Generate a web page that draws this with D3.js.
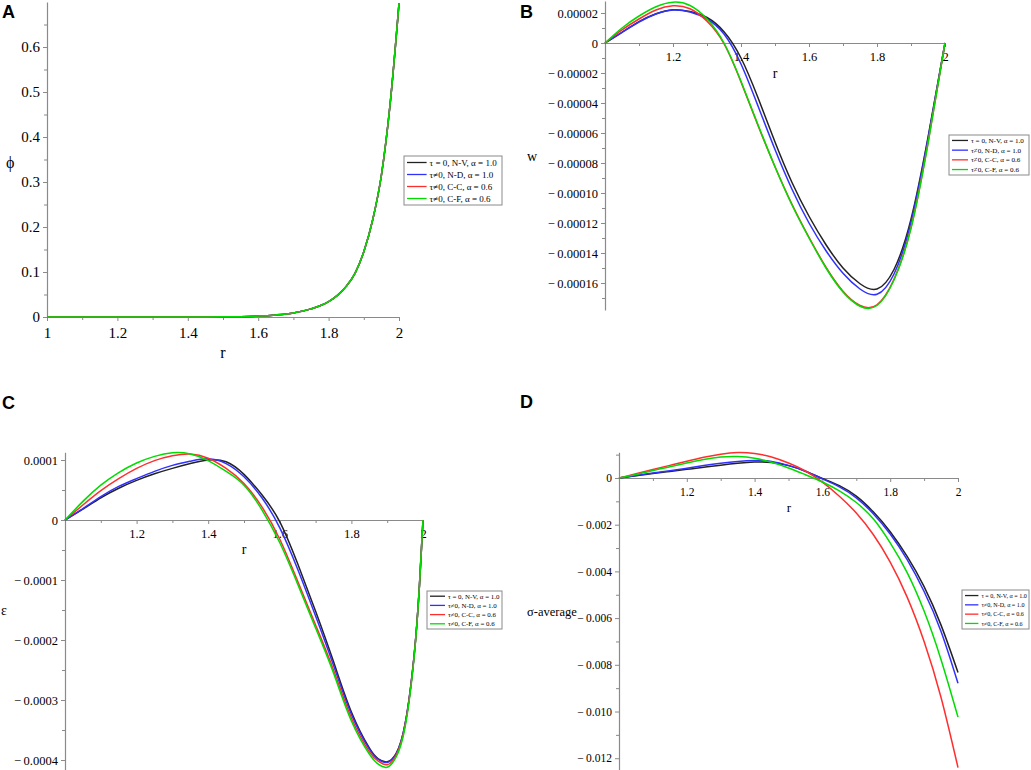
<!DOCTYPE html>
<html>
<head>
<meta charset="utf-8">
<title>phi, w, epsilon, sigma-average vs r</title>
<script src="https://cdnjs.cloudflare.com/ajax/libs/d3/7.8.5/d3.min.js"></script>
<style>
  html, body { margin: 0; padding: 0; background: #fff; }
  svg { display: block; }
  text { font-family: 'Liberation Serif', 'Times New Roman', serif; }
  .tick text { fill: #000; font-family: 'Liberation Serif', 'Times New Roman', serif; }
  text.letter { font-family: 'Liberation Sans', Arial, sans-serif; font-weight: bold; }
</style>
</head>
<body>
<svg id="fig" width="1031" height="770"></svg>
<script>
// ---- data ----
const seriesNames = ["τ = 0, N-V, α = 1.0", "τ≠0, N-D, α = 1.0", "τ≠0, C-C,  α = 0.6", "τ≠0, C-F,  α = 0.6"];
const seriesColors = ["#222222", "#3030ff", "#ff2e2e", "#00dc00"];

// A: phi (the four curves coincide)
const rA = [1.0, 1.1, 1.2, 1.3, 1.4, 1.5, 1.6, 1.65, 1.7, 1.75, 1.8, 1.825, 1.85, 1.875, 1.9, 1.925, 1.95, 1.975, 2.0];
const phiNV = [0, 0, 0, 0, 0.00005, 0.0003, 0.002, 0.0045, 0.009, 0.018, 0.034, 0.048, 0.068, 0.097, 0.145, 0.215, 0.315, 0.475, 0.697];
const phiND = [0, 0, 0, 0, 0.00005, 0.0003, 0.002, 0.0045, 0.009, 0.018, 0.034, 0.048, 0.068, 0.097, 0.145, 0.215, 0.315, 0.475, 0.697];
const phiCC = [0, 0, 0, 0, 0.00005, 0.0003, 0.002, 0.0045, 0.009, 0.018, 0.034, 0.048, 0.068, 0.097, 0.145, 0.215, 0.315, 0.475, 0.697];
const phiCF = [0, 0, 0, 0, 0.00005, 0.0003, 0.002, 0.0045, 0.009, 0.018, 0.034, 0.048, 0.068, 0.097, 0.145, 0.215, 0.315, 0.475, 0.697];

// B: w (units of 1e-5)
const rB = [1.0, 1.05, 1.1, 1.15, 1.2, 1.25, 1.3, 1.35, 1.4, 1.45, 1.5, 1.55, 1.6, 1.65, 1.7, 1.75, 1.8, 1.85, 1.9, 1.95, 2.0];
const wNV = [0, 0.71, 1.42, 1.95, 2.22, 2.1, 1.7, 0.75, -1.0, -3.65, -6.6, -9.3, -11.55, -13.45, -15.0, -16.05, -16.4, -15.1, -11.75, -6.3, 0];
const wND = [0, 0.71, 1.4, 1.93, 2.2, 2.07, 1.6, 0.6, -1.4, -4.2, -7.1, -9.75, -12.0, -13.85, -15.35, -16.4, -16.75, -15.4, -11.95, -6.4, 0];
const wCC = [0, 0.87, 1.6, 2.2, 2.48, 2.28, 1.45, -0.05, -2.6, -5.5, -8.25, -10.75, -12.95, -14.95, -16.55, -17.5, -17.45, -15.75, -12.3, -6.65, 0];
const wCF = [0, 1.0, 1.8, 2.42, 2.72, 2.5, 1.6, 0.0, -2.55, -5.45, -8.25, -10.8, -13.0, -15.0, -16.6, -17.55, -17.5, -15.8, -12.35, -6.7, 0];

// C: epsilon (units of 1e-4)
const rC = [1.0, 1.05, 1.1, 1.15, 1.2, 1.25, 1.3, 1.35, 1.4, 1.45, 1.5, 1.55, 1.6, 1.65, 1.7, 1.75, 1.8, 1.85, 1.875, 1.9, 1.925, 1.95, 1.975, 1.99, 2.0];
const eNV = [0, 0.18, 0.37, 0.53, 0.66, 0.77, 0.86, 0.94, 1.0, 0.97, 0.76, 0.42, -0.03, -0.73, -1.52, -2.36, -3.2, -3.8, -3.98, -4.03, -3.89, -3.4, -2.27, -1.1, 0];
const eND = [0, 0.19, 0.39, 0.56, 0.69, 0.81, 0.91, 0.98, 1.02, 0.94, 0.72, 0.37, -0.13, -0.82, -1.6, -2.42, -3.24, -3.82, -3.99, -4.04, -3.9, -3.4, -2.27, -1.1, 0];
const eCC = [0, 0.25, 0.49, 0.69, 0.86, 0.99, 1.07, 1.10, 1.03, 0.86, 0.61, 0.22, -0.32, -1.02, -1.75, -2.5, -3.3, -3.86, -4.02, -4.08, -3.92, -3.42, -2.28, -1.1, 0];
const eCF = [0, 0.31, 0.58, 0.79, 0.95, 1.06, 1.12, 1.10, 0.99, 0.81, 0.58, 0.17, -0.38, -1.07, -1.8, -2.55, -3.35, -3.9, -4.07, -4.12, -3.95, -3.45, -2.3, -1.1, 0];

// D: sigma-average (units of 1e-3)
const rD = [1.0, 1.05, 1.1, 1.15, 1.2, 1.25, 1.3, 1.35, 1.4, 1.45, 1.5, 1.55, 1.6, 1.65, 1.7, 1.75, 1.8, 1.85, 1.9, 1.95, 2.0];
const sNV = [0, 0.1, 0.19, 0.28, 0.37, 0.46, 0.55, 0.63, 0.68, 0.66, 0.53, 0.29, -0.02, -0.33, -0.78, -1.45, -2.3, -3.36, -4.65, -6.3, -8.33];
const sND = [0, 0.11, 0.21, 0.31, 0.42, 0.53, 0.63, 0.71, 0.75, 0.71, 0.54, 0.29, -0.04, -0.38, -0.85, -1.53, -2.4, -3.5, -4.86, -6.57, -8.79];
const sCC = [0, 0.18, 0.36, 0.54, 0.72, 0.89, 1.02, 1.09, 1.05, 0.9, 0.64, 0.3, -0.18, -0.78, -1.5, -2.42, -3.6, -5.1, -7.0, -9.4, -12.4];
const sCF = [0, 0.15, 0.32, 0.48, 0.64, 0.79, 0.9, 0.92, 0.85, 0.67, 0.43, 0.14, -0.17, -0.55, -1.05, -1.75, -2.78, -4.05, -5.7, -7.78, -10.24];

// ticks
const xTicksA = [1, 1.2, 1.4, 1.6, 1.8, 2];
const xLabelsA = ["1", "1.2", "1.4", "1.6", "1.8", "2"];
const xTicks = [1.2, 1.4, 1.6, 1.8, 2];
const xLabels = ["1.2", "1.4", "1.6", "1.8", "2"];
const xMinor = [1.1, 1.3, 1.5, 1.7, 1.9];

const yTicksA = [0, 0.1, 0.2, 0.3, 0.4, 0.5, 0.6];
const yLabelsA = ["0", "0.1", "0.2", "0.3", "0.4", "0.5", "0.6"];
const yMinorA = [0.05, 0.15, 0.25, 0.35, 0.45, 0.55, 0.65];

const yTicksB = [2, 0, -2, -4, -6, -8, -10, -12, -14, -16];
const yLabelsB = ["0.00002", "0", "−\u20090.00002", "−\u20090.00004", "−\u20090.00006", "−\u20090.00008",
                  "−\u20090.00010", "−\u20090.00012", "−\u20090.00014", "−\u20090.00016"];
const yMinorB = [1, -1, -3, -5, -7, -9, -11, -13, -15, -17];

const yTicksC = [1, 0, -1, -2, -3, -4];
const yLabelsC = ["0.0001", "0", "−\u20090.0001", "−\u20090.0002", "−\u20090.0003", "−\u20090.0004"];
const yMinorC = [0.5, -0.5, -1.5, -2.5, -3.5];

const yTicksD = [0, -2, -4, -6, -8, -10, -12];
const yLabelsD = ["0", "−\u20090.002", "−\u20090.004", "−\u20090.006", "−\u20090.008", "−\u20090.010", "−\u20090.012"];
const yMinorD = [1, -1, -3, -5, -7, -9, -11];

// ---- panel setup ----
const panels = [
  { letter: "A", lx: 2, ly: 18, r: rA, series: [phiNV, phiND, phiCC, phiCF], curve: d3.curveMonotoneX,
    xr: [47, 399], yd: [0, 0.7], yr: [317, 2],
    xt: xTicksA, xl: xLabelsA, xm: xMinor, yt: yTicksA, yl: yLabelsA, ym: yMinorA,
    fs: 15, xpad: 6.5,
    ylab: "ϕ", ylabPos: [6, 168], ylabFs: 16, rPos: [223, 358], rFs: 16,
    leg: { x: 404, y: 156, w: 98, h: 49, fs: 9, row: 12 } },
  { letter: "B", lx: 520, ly: 18, r: rB, series: [wNV, wND, wCC, wCF], curve: d3.curveNatural,
    xr: [605, 945], yd: [-17.8, 2.8], yr: [310, 1],
    xt: xTicks, xl: xLabels, xm: xMinor, yt: yTicksB, yl: yLabelsB, ym: yMinorB,
    fs: 12.5, xpad: 5.5,
    ylab: "w", ylabPos: [527, 161], ylabFs: 14, rPos: [775, 78], rFs: 14,
    leg: { x: 949, y: 135, w: 80, h: 40, fs: 7.1, row: 9.7 } },
  { letter: "C", lx: 2, ly: 409, r: rC, series: [eNV, eND, eCC, eCF], curve: d3.curveNatural,
    xr: [65, 423], yd: [-4.17, 1.13], yr: [770.2, 452.2],
    xt: xTicks, xl: xLabels, xm: xMinor, yt: yTicksC, yl: yLabelsC, ym: yMinorC,
    fs: 12.5, xpad: 5.5,
    ylab: "ε", ylabPos: [1, 615], ylabFs: 14, rPos: [244, 554], rFs: 14,
    leg: { x: 427, y: 591, w: 75, h: 38, fs: 6.9, row: 9.2 } },
  { letter: "D", lx: 520, ly: 408, r: rD, series: [sNV, sND, sCC, sCF], curve: d3.curveNatural,
    xr: [619, 958], yd: [-12.5, 1.1], yr: [769.9, 452.3],
    xt: xTicks, xl: xLabels, xm: xMinor, yt: yTicksD, yl: yLabelsD, ym: yMinorD,
    fs: 11.5, xpad: 5.5,
    ylab: "σ-average", ylabPos: [527, 616], ylabFs: 12.5, rPos: [789, 512], rFs: 13,
    leg: { x: 962, y: 590, w: 67, h: 39, fs: 6.1, row: 9.3 } }
];

const svg = d3.select("#fig");
const serif = "'Liberation Serif', 'Times New Roman', serif";
const axisGrey = "#8a8a8a";

function styleAxis(g, fs) {
  g.attr("font-family", serif).attr("font-size", fs);
  g.selectAll(".tick text").style("font-family", serif).style("font-size", fs + "px");
  g.selectAll(".domain").attr("stroke", axisGrey).attr("stroke-width", 1.2);
  g.selectAll(".tick line").attr("stroke", axisGrey);
}

panels.forEach(function(p) {
  const x = d3.scaleLinear().domain([1, 2]).range(p.xr);
  const y = d3.scaleLinear().domain(p.yd).range(p.yr);
  const g = svg.append("g");

  // minor ticks
  g.append("g")
    .attr("transform", "translate(0," + y(0) + ")")
    .call(d3.axisBottom(x).tickValues(p.xm).tickFormat("").tickSize(3))
    .call(a => { a.select(".domain").remove(); a.selectAll("line").attr("stroke", axisGrey); });
  g.append("g")
    .attr("transform", "translate(" + x(1) + ",0)")
    .call(d3.axisLeft(y).tickValues(p.ym).tickFormat("").tickSize(3))
    .call(a => { a.select(".domain").remove(); a.selectAll("line").attr("stroke", axisGrey); });

  // x axis through y = 0
  const xa = g.append("g")
    .attr("transform", "translate(0," + y(0) + ")")
    .call(d3.axisBottom(x).tickValues(p.xt)
      .tickFormat((d, i) => p.xl[i]).tickSize(4).tickSizeOuter(0).tickPadding(p.xpad));
  styleAxis(xa, p.fs);

  // y axis at r = 1
  const ya = g.append("g")
    .attr("transform", "translate(" + x(1) + ",0)")
    .call(d3.axisLeft(y).tickValues(p.yt)
      .tickFormat((d, i) => p.yl[i]).tickSize(4).tickSizeOuter(0).tickPadding(3));
  styleAxis(ya, p.fs);

  // curves
  const line = d3.line()
    .x((d, i) => x(p.r[i]))
    .y(d => y(d))
    .curve(p.curve);
  p.series.forEach(function(s, k) {
    g.append("path")
      .datum(s)
      .attr("d", line)
      .attr("fill", "none")
      .attr("stroke", seriesColors[k])
      .attr("stroke-width", 1.5);
  });

  // axis titles
  g.append("text")
    .attr("x", p.ylabPos[0]).attr("y", p.ylabPos[1])
    .attr("font-size", p.ylabFs)
    .text(p.ylab);
  g.append("text")
    .attr("x", p.rPos[0]).attr("y", p.rPos[1])
    .attr("text-anchor", "middle")
    .attr("font-size", p.rFs)
    .text("r");

  // legend
  const L = p.leg;
  const lg = g.append("g").attr("transform", "translate(" + L.x + "," + L.y + ")");
  lg.append("rect")
    .attr("width", L.w).attr("height", L.h)
    .attr("fill", "#fff").attr("stroke", "#8a8a8a").attr("stroke-width", 1);
  const sampleW = L.w * 0.2;
  seriesNames.forEach(function(name, k) {
    const yy = (L.h - 4 * L.row) / 2 + L.row * (k + 0.5);
    lg.append("line")
      .attr("x1", 3).attr("x2", 3 + sampleW)
      .attr("y1", yy).attr("y2", yy)
      .attr("stroke", seriesColors[k]).attr("stroke-width", 1.3);
    lg.append("text")
      .attr("x", 6 + sampleW).attr("y", yy)
      .attr("dy", "0.35em")
      .attr("font-size", L.fs)
      .text(name);
  });

  // panel letter
  svg.append("text")
    .attr("class", "letter")
    .attr("x", p.lx).attr("y", p.ly)
    .attr("font-size", 18)
    .text(p.letter);
});
</script>
</body>
</html>
